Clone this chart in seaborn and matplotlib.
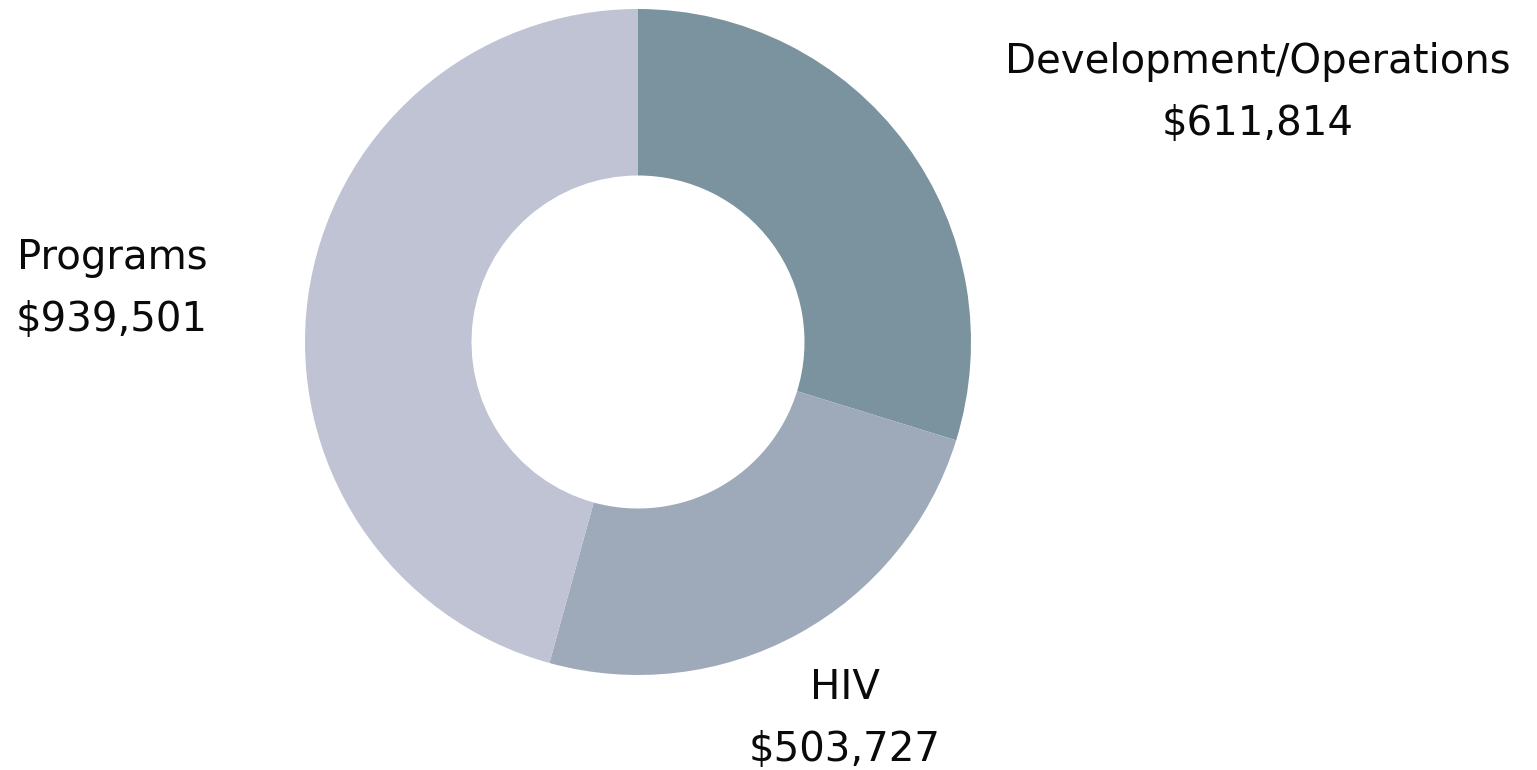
import matplotlib
matplotlib.use("Agg")
import matplotlib.pyplot as plt
import seaborn as sns

# Budget split
categories = ["Development/Operations", "HIV", "Programs"]
amounts = [611814, 503727, 939501]
colors = ["#7b939e", "#9eaaba", "#bfc3d3"]

sns.set_theme(style="white")
plt.rcParams["font.family"] = ["DejaVu Sans"]

W, H = 1537, 770
fig = plt.figure(figsize=(W / 100, H / 100), dpi=100)
ax = fig.add_axes([0, 0, 1, 1])
ax.set_xlim(0, W)
ax.set_ylim(0, H)
ax.set_aspect("equal")
ax.axis("off")

center = (638, H - 342)
radius = 333
ax.pie(amounts, colors=colors, startangle=90, counterclock=False,
       center=center, radius=radius,
       wedgeprops=dict(width=radius * 0.5, linewidth=0))
ax.set_xlim(0, W)
ax.set_ylim(0, H)

# label positions (x, y of name line in pixels from top)
label_pos = {"Development/Operations": (1258, 62),
             "HIV": (845, 688),
             "Programs": (112, 258)}
for cat, amt in zip(categories, amounts):
    x, y = label_pos[cat]
    ax.text(x, H - y, cat, ha="center", va="center", fontsize=29, color="#0a0a0a")
    ax.text(x, H - y - 62, f"${amt:,}", ha="center", va="center", fontsize=29, color="#0a0a0a")

fig.savefig("out.png", dpi=100, facecolor="white")
